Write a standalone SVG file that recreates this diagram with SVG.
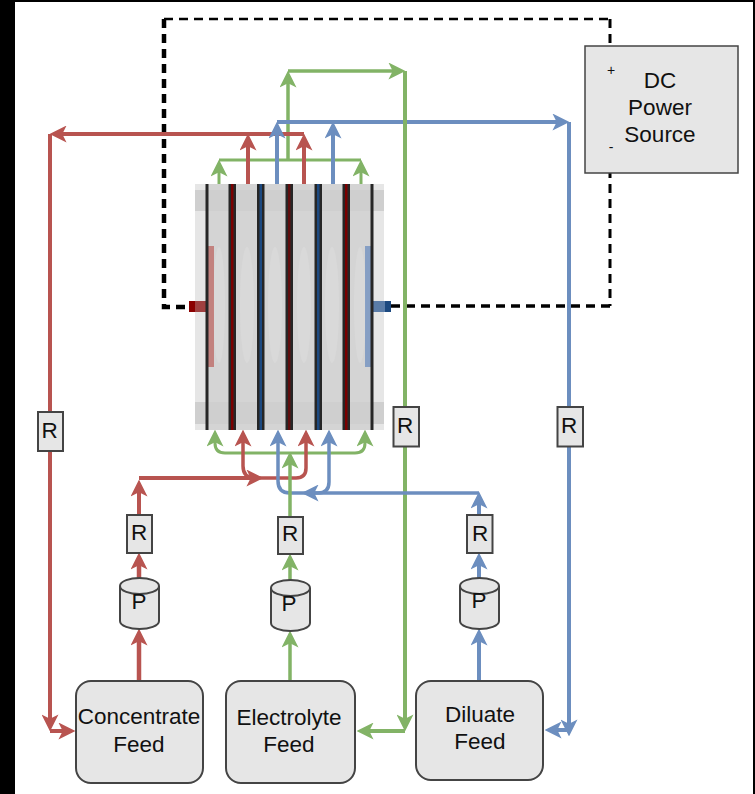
<svg xmlns="http://www.w3.org/2000/svg" width="755" height="794" viewBox="0 0 755 794">
<style>
text{font-family:"Liberation Sans",Arial,sans-serif;font-size:22.5px;fill:#111;text-anchor:middle}
.box{fill:#e6e6e6;stroke:#444;stroke-width:2}
.r{fill:none;stroke:#b85450;stroke-width:4}
.g{fill:none;stroke:#82b366;stroke-width:3.5}
.b{fill:none;stroke:#6c8ebf;stroke-width:4}
.ra{marker-end:url(#mr)}.ga{marker-end:url(#mg)}.ba{marker-end:url(#mb)}
.d{fill:none;stroke:#000;stroke-dasharray:9 6}
.m{fill:#262626}
.ch{fill:#d9d9d9}
</style>
<defs>
<marker id="mr" markerUnits="userSpaceOnUse" viewBox="0 0 16 16" markerWidth="17" markerHeight="17" refX="9" refY="8" orient="auto"><path d="M0,0L16,8L0,16L4,8Z" fill="#b85450"/></marker>
<marker id="mg" markerUnits="userSpaceOnUse" viewBox="0 0 16 16" markerWidth="17" markerHeight="17" refX="9" refY="8" orient="auto"><path d="M0,0L16,8L0,16L4,8Z" fill="#82b366"/></marker>
<marker id="mb" markerUnits="userSpaceOnUse" viewBox="0 0 16 16" markerWidth="17" markerHeight="17" refX="9" refY="8" orient="auto"><path d="M0,0L16,8L0,16L4,8Z" fill="#6c8ebf"/></marker>
<filter id="soft" x="-5%" y="-5%" width="110%" height="110%"><feGaussianBlur stdDeviation="0.5"/></filter>
<clipPath id="stackclip"><rect x="189" y="184" width="202" height="246"/></clipPath>
</defs>
<rect width="755" height="794" fill="#fff"/>
<path d="M0,0H755V794H753V2H15V794H0Z" fill="#000"/>

<g id="connectors">
<path class="d" style="stroke-width:4.5" d="M164,19V307H190"/>
<path class="d" style="stroke-width:2.5" d="M164,19H610"/>
<path class="d" style="stroke-width:3" d="M610,19V306"/>
<path class="d" style="stroke-width:3.5" d="M610,306H385"/>
<path class="g" style="stroke-width:3" d="M219,160H361"/>
<path class="g ga" style="stroke-width:3" d="M219,184V167"/>
<path class="g ga" style="stroke-width:3" d="M361,184V167"/>
<path class="g ga" d="M288,160V78"/>
<path class="g ga" d="M288,71H398"/>
<path class="r ra" d="M248,184V141"/>
<path class="r ra" d="M304,184V141"/>
<path class="r ra" d="M304,134H57"/>
<path class="r ra" d="M50,134V724"/>
<path class="r ra" d="M50,731H68"/>
<path class="b ba" d="M277,184V129"/>
<path class="b ba" d="M333,184V129"/>
<path class="b ba" d="M277,122H562"/>
<path class="b ba" d="M569,122V729"/>
<path class="b ba" d="M569,730H552"/>
<path class="g ga" style="stroke-width:4" d="M405,71V724"/>
<path class="g ga" style="stroke-width:4" d="M405,731H364"/>
<path class="g ga" style="stroke-width:3" d="M290,453H225Q215,453 215,443V437"/>
<path class="g ga" style="stroke-width:3" d="M290,453H355Q365,453 365,443V437"/>
<path class="r ra" d="M139,515V487"/>
<path class="r ra" d="M139,478H256"/>
<path class="r ra" style="stroke-width:3.5" d="M250,478H296Q306,478 306,468V437"/>
<path class="r ra" style="stroke-width:3.5" d="M255,478Q243,478 243,466V437"/>
<path class="r ra" style="stroke-width:4.500" d="M139,578V560"/>
<path class="r ra" style="stroke-width:4.500" d="M139,681V636"/>
<path class="b ba" style="stroke-width:3.5" d="M318,493Q329,493 329,482V437"/>
<path class="b ba" style="stroke-width:3.5" d="M318,493H290Q278,493 278,481V437"/>
<path class="b ba" style="stroke-width:3.5" d="M479,493H309"/>
<path class="b ba" d="M479,515V499"/>
<path class="b ba" d="M479,578V560"/>
<path class="b ba" d="M479,681V636"/>
<path class="g ga" d="M290,517V459"/>
<path class="g ga" d="M290,580V561"/>
<path class="g ga" d="M290,681V638"/>
</g>

<g id="stack">
<g clip-path="url(#stackclip)">
<g filter="url(#soft)">
<rect x="190" y="180" width="199" height="254" fill="#fff"/>
<rect x="195" y="180" width="189" height="254" fill="#e6e6e6"/>
<rect x="207" y="180" width="165" height="254" fill="#d4d4d4"/>
<rect x="195" y="190" width="189" height="21" fill="#cfcfcf"/>
<rect x="195" y="402" width="189" height="22" fill="#cfcfcf"/>
<ellipse class="ch" cx="219" cy="305" rx="6" ry="58"/>
<ellipse class="ch" cx="247" cy="305" rx="7" ry="58"/>
<ellipse class="ch" cx="275" cy="305" rx="7" ry="58"/>
<ellipse class="ch" cx="304" cy="305" rx="7" ry="58"/>
<ellipse class="ch" cx="332" cy="305" rx="7" ry="58"/>
<ellipse class="ch" cx="360" cy="305" rx="6" ry="58"/>
<rect x="208" y="246" width="6" height="121" fill="#b85450" opacity=".65"/>
<rect x="365" y="246" width="6" height="121" fill="#6c8ebf" opacity=".75"/>
<rect x="189" y="301" width="6" height="11" fill="#8b0000"/>
<rect x="195" y="301" width="11" height="11" fill="#a04040"/>
<rect x="373" y="301" width="12" height="11" fill="#5a7ba8"/>
<rect x="385" y="301" width="6" height="11" fill="#1f4a80"/>
<rect class="m" x="205.500" y="180" width="3" height="254"/>
<rect class="m" x="370.500" y="180" width="3" height="254"/>
<rect class="m" x="228.500" y="180" width="7.500" height="254"/>
<rect x="231" y="180" width="2.500" height="254" fill="#7a0000"/>
<rect class="m" x="257" y="180" width="7.500" height="254"/>
<rect x="259.500" y="180" width="2.500" height="254" fill="#1f4a80"/>
<rect class="m" x="285.500" y="180" width="7.500" height="254"/>
<rect x="288" y="180" width="2.500" height="254" fill="#5e1010"/>
<rect class="m" x="314.500" y="180" width="7.500" height="254"/>
<rect x="317" y="180" width="2.500" height="254" fill="#1f4a80"/>
<rect class="m" x="342.500" y="180" width="7.500" height="254"/>
<rect x="345" y="180" width="2.500" height="254" fill="#7a0000"/>
</g>
</g>
</g>

<g id="dc-source">
<rect class="box" style="stroke-width:1.500" x="585" y="46" width="153" height="127"/>
<text x="660" y="88">DC</text><text x="660" y="115">Power</text><text x="660" y="142">Source</text>
<text x="611" y="75" style="font-size:14px">+</text>
<text x="611" y="152" style="font-size:14px">-</text>
</g>

<g id="r-concentrate-return"><rect class="box" x="38" y="412" width="25" height="39"/><text x="49.500" y="438">R</text></g>
<g id="r-electrolyte-return"><rect class="box" x="393.500" y="407" width="25.500" height="39.500"/><text x="405" y="433">R</text></g>
<g id="r-diluate-return"><rect class="box" x="557.500" y="407" width="25.500" height="39.500"/><text x="569" y="433">R</text></g>
<g id="r-concentrate"><rect class="box" x="127" y="515" width="25" height="38"/><text x="139" y="540">R</text></g>
<g id="r-electrolyte"><rect class="box" x="278" y="517" width="25" height="37"/><text x="290" y="541">R</text></g>
<g id="r-diluate"><rect class="box" x="467" y="515" width="25.500" height="38"/><text x="480" y="541">R</text></g>

<g id="pump-concentrate"><path class="box" d="M120,586C120,581 130,578 139.500,578S159,581 159,586V621C159,626 149,629 139.500,629S120,626 120,621Z"/><path d="M120,586C120,591 130,594 139.500,594S159,591 159,586" fill="none" stroke="#444" stroke-width="2"/><text x="139" y="609">P</text></g>
<g id="pump-electrolyte"><path class="box" d="M271,588C271,583 281,580 290.500,580S310,583 310,588V623C310,628 300,631 290.500,631S271,628 271,623Z"/><path d="M271,588C271,593 281,596 290.500,596S310,593 310,588" fill="none" stroke="#444" stroke-width="2"/><text x="289" y="611">P</text></g>
<g id="pump-diluate"><path class="box" d="M460,586C460,581 470,578 479.500,578S499,581 499,586V621C499,626 489,629 479.500,629S460,626 460,621Z"/><path d="M460,586C460,591 470,594 479.500,594S499,591 499,586" fill="none" stroke="#444" stroke-width="2"/><text x="479" y="608">P</text></g>

<g id="concentrate-feed"><rect class="box" x="76" y="681" width="127" height="102" rx="15"/><text x="139" y="724">Concentrate</text><text x="139" y="752">Feed</text></g>
<g id="electrolyte-feed"><rect class="box" x="226" y="681" width="129" height="102" rx="15"/><text x="289" y="725">Electrolyte</text><text x="289" y="752">Feed</text></g>
<g id="diluate-feed"><rect class="box" x="416" y="681" width="127" height="99" rx="15"/><text x="480" y="722">Diluate</text><text x="480" y="749">Feed</text></g>
</svg>
